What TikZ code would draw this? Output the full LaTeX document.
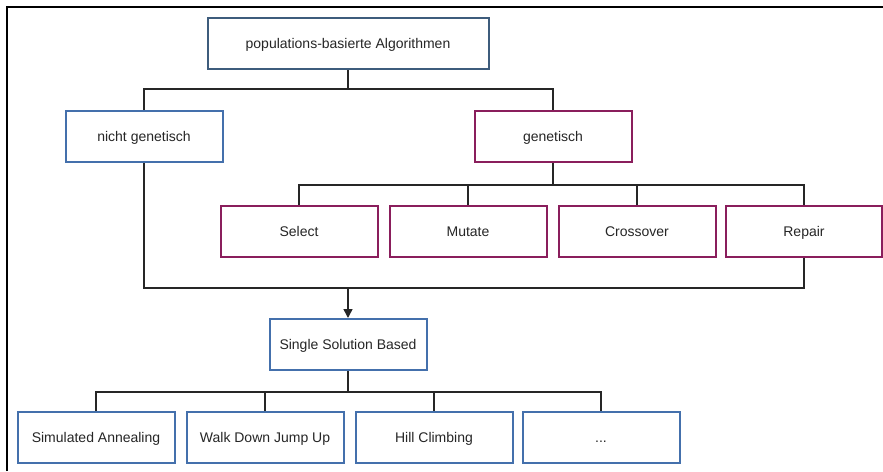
\documentclass[tikz,border=0pt]{standalone}
\usepackage{fontspec}
\setmainfont{Liberation Sans}
\usetikzlibrary{arrows.meta}
\definecolor{topblue}{HTML}{3E5C7C}
\definecolor{boxblue}{HTML}{4470AC}
\definecolor{boxpurple}{HTML}{8A1E5C}
\tikzset{
  box/.style={draw=boxblue, line width=2pt, fill=white, minimum width=157pt, minimum height=51pt, inner sep=0pt, text height=11pt, text depth=1pt, font=\fontsize{14}{16}\selectfont, text=black!85},
  topbox/.style={box, draw=topblue, minimum width=281pt},
  gbox/.style={box, draw=boxpurple},
  conn/.style={draw=black!85, line width=1.5pt},
}
\begin{document}
\begin{tikzpicture}[x=1pt,y=-1pt]
\useasboundingbox (0,0) rectangle (883,471);
\draw[black, line width=2.2pt] (7,471) -- (7,7) -- (883,7);
\node[topbox] (pop) at (348,43.5) {populations-basierte Algorithmen};
\node[box] (ng) at (144,136.5) {nicht genetisch};
\node[gbox] (g) at (553,136.5) {genetisch};
\node[gbox] (sel) at (299,231.5) {Select};
\node[gbox] (mut) at (468,231.5) {Mutate};
\node[gbox] (cro) at (637,231.5) {Crossover};
\node[gbox, minimum width=156pt] (rep) at (804,231.5) {Repair};
\node[box] (ssb) at (348,344.5) {Single Solution Based};
\node[box] (sa) at (96,437.5) {Simulated Annealing};
\node[box] (wd) at (265,437.5) {Walk Down Jump Up};
\node[box] (hc) at (434,437.5) {Hill Climbing};
\node[box] (dots) at (601,437.5) {...};
% top level
\draw[conn] (pop.south) -- ++(0,19) -| (ng.north);
\draw[conn] (pop.south) ++(0,19) -| (g.north);
% genetic operators
\draw[conn] (g.south) -- ++(0,22) -| (sel.north);
\draw[conn] (g.south) ++(0,22) -| (mut.north);
\draw[conn] (g.south) ++(0,22) -| (cro.north);
\draw[conn] (g.south) ++(0,22) -| (rep.north);
% merge
\coordinate (m) at (ssb.north |- 0,288);
\draw[conn] (ng.south) |- (m);
\draw[conn] (rep.south) |- (m);
\draw[conn, -{Triangle[length=9pt,width=9pt]}] (m) -- (ssb.north);
% bottom
\draw[conn] (ssb.south) -- ++(0,21) -| (sa.north);
\draw[conn] (ssb.south) ++(0,21) -| (wd.north);
\draw[conn] (ssb.south) ++(0,21) -| (hc.north);
\draw[conn] (ssb.south) ++(0,21) -| (dots.north);
\end{tikzpicture}
\end{document}
